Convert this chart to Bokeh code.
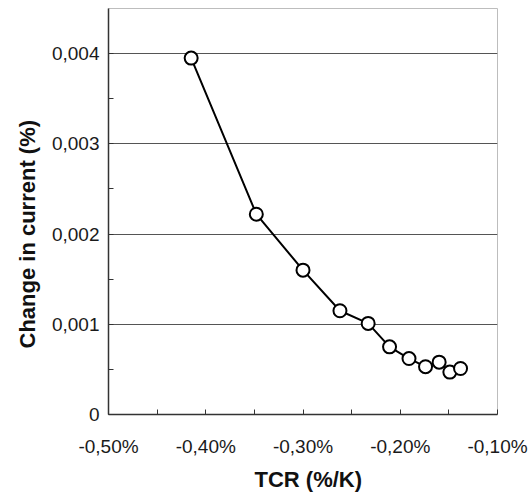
from bokeh.plotting import figure
from bokeh.models import FixedTicker, CustomJSTickFormatter, Range1d, Title
from bokeh.embed import file_html
from bokeh.resources import INLINE

# Data (TCR in %/K, change in current in %)
tcr = [-0.415, -0.348, -0.300, -0.262, -0.233, -0.211, -0.191, -0.174, -0.160, -0.149, -0.138]
change = [0.00395, 0.00222, 0.00160, 0.00115, 0.00101, 0.00075, 0.00062, 0.00053, 0.00058, 0.00047, 0.00051]

x_ticks = [-0.5, -0.4, -0.3, -0.2, -0.1]
x_minor = [-0.45, -0.35, -0.25, -0.15]
y_ticks = [0, 0.001, 0.002, 0.003, 0.004]
y_minor = [0.0005, 0.0015, 0.0025, 0.0035]

x_title = "TCR (%/K)"
y_title = "Change in current (%)"

FONT = "Liberation Sans"

p = figure(width=529, height=496, output_backend="svg", toolbar_location=None,
           x_range=Range1d(-0.5, -0.1), y_range=Range1d(0, 0.0045),
           min_border_left=108, min_border_right=32, min_border_top=8, min_border_bottom=82)

p.outline_line_color = "#bdbdbd"
p.outline_line_width = 1

p.xgrid.grid_line_color = None
p.ygrid.grid_line_color = "#555555"
p.ygrid.grid_line_width = 1
p.ygrid.ticker = FixedTicker(ticks=y_ticks[1:])

p.xaxis.ticker = FixedTicker(ticks=x_ticks, minor_ticks=x_minor)
p.yaxis.ticker = FixedTicker(ticks=y_ticks, minor_ticks=y_minor)

p.xaxis.formatter = CustomJSTickFormatter(code="return tick.toFixed(2).replace('.', ',') + '%';")
p.yaxis.formatter = CustomJSTickFormatter(code="return tick === 0 ? '0' : tick.toFixed(3).replace('.', ',');")

for ax in (p.xaxis, p.yaxis):
    ax.axis_line_color = "#333333"
    ax.axis_line_width = 1.5
    ax.major_tick_in = 5
    ax.major_tick_out = 0
    ax.minor_tick_in = 5
    ax.minor_tick_out = 0
    ax.major_tick_line_color = "#333333"
    ax.minor_tick_line_color = "#333333"
    ax.major_label_text_font = FONT
    ax.major_label_text_font_size = "19px"
    ax.major_label_text_color = "#1a1a1a"

p.xaxis.major_label_standoff = 21
p.yaxis.major_label_standoff = 9

# Axis titles as side-panel titles (allow offset along the axis)
p.add_layout(Title(text=x_title, align="left", offset=146, standoff=10,
                   text_font=FONT, text_font_style="bold", text_font_size="22px",
                   text_color="#111111"), "below")
p.add_layout(Title(text=y_title, align="left", offset=66, standoff=18,
                   text_font=FONT, text_font_style="bold", text_font_size="22px",
                   text_color="#111111"), "left")

p.line(tcr, change, line_color="black", line_width=2)
p.scatter(tcr, change, size=13, fill_color="white", line_color="black", line_width=2)

open("out.html", "w").write(file_html(p, INLINE))
